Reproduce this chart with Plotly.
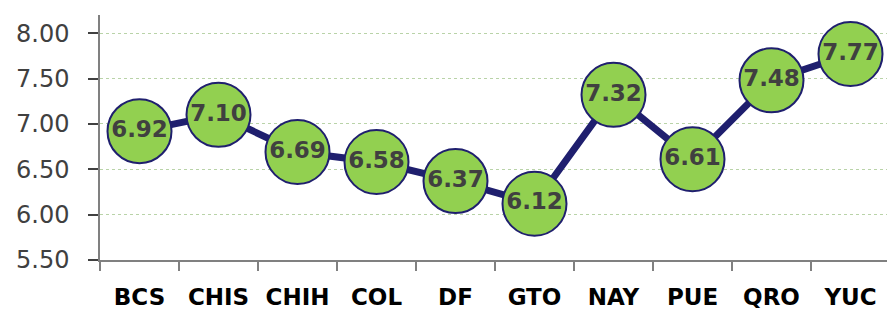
import plotly.graph_objects as go

categories = ["BCS", "CHIS", "CHIH", "COL", "DF", "GTO", "NAY", "PUE", "QRO", "YUC"]
values = [6.92, 7.10, 6.69, 6.58, 6.37, 6.12, 7.32, 6.61, 7.48, 7.77]
tick_vals = [5.5, 6.0, 6.5, 7.0, 7.5, 8.0]
tick_text = ["5.50", "6.00", "6.50", "7.00", "7.50", "8.00"]

navy = "#1F1F6E"
fig = go.Figure()
fig.add_trace(go.Scatter(
    x=categories, y=values,
    mode="lines+markers+text",
    line=dict(color=navy, width=7),
    marker=dict(size=64, color="#92D050", line=dict(color=navy, width=2)),
    text=[f"{v:.2f}" for v in values],
    textposition="middle center",
    textfont=dict(family="DejaVu Sans", size=23, color="#404040", weight="bold"),
    cliponaxis=False,
    hoverinfo="skip",
))

# page body has an 8px default margin, so the figure is sized to fit the window
fig.update_layout(
    width=887, height=302,
    margin=dict(l=92, r=5, t=7, b=50, autoexpand=False),
    plot_bgcolor="white", paper_bgcolor="white",
    showlegend=False,
)
fig.update_xaxes(
    type="category",
    automargin=False,
    tickson="boundaries",
    ticks="outside", ticklen=9, tickcolor="#808080", tickwidth=1.5,
    showline=True, linecolor="#808080", linewidth=1.5,
    showgrid=False,
    tickfont=dict(family="DejaVu Sans", size=23, color="#000000", weight="bold"),
    ticklabelstandoff=16,
    range=[-0.5, 9.5],
)
fig.update_yaxes(
    automargin=False,
    range=[5.5, 8.2],
    tickvals=tick_vals, ticktext=tick_text,
    ticks="outside", ticklen=10, tickcolor="#404040", tickwidth=1.5,
    showline=True, linecolor="#808080", linewidth=1.5,
    showgrid=True, gridcolor="#B9D3A8", griddash="dot", gridwidth=1,
    zeroline=False,
    tickfont=dict(family="DejaVu Sans", size=24, color="#404040"),
    ticklabelstandoff=14,
)
fig.write_html("out.html")
